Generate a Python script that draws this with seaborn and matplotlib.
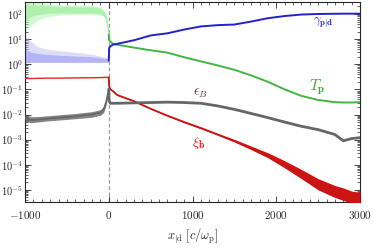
import numpy as np
import matplotlib
matplotlib.use("Agg")
import matplotlib.pyplot as plt
import seaborn as sns
from matplotlib.ticker import LogLocator, MultipleLocator, NullFormatter

# ---- data ----
# upstream (x < 0), noisy light curves given as mid line + envelopes
x_up = [-1000, -970, -930, -850, -750, -600, -400, -200, -100, -60, -30, -10, 0]
tp_up_mid = [120, 140, 160, 165, 160, 155, 150, 145, 135, 110, 70, 30, 15]
tp_up_lo = [40, 60, 80, 95, 105, 110, 110, 110, 100, 85, 55, 24, 13]
tp_up_hi = [250, 250, 240, 230, 215, 200, 195, 190, 170, 135, 85, 36, 17]
tp_up_lo2 = [20, 25, 35, 55, 75, 90, 95, 95, 90, 80, 50, 22, 12]
tp_up_hi2 = [300, 300, 300, 290, 260, 240, 230, 220, 190, 145, 95, 40, 18]
g_up_mid = [1.9, 1.8, 1.7, 1.65, 1.6, 1.55, 1.5, 1.45, 1.4, 1.4, 1.4, 1.4, 1.4]
g_up_lo = [1.15, 1.15, 1.2, 1.2, 1.2, 1.2, 1.2, 1.2, 1.2, 1.2, 1.2, 1.2, 1.2]
g_up_hi = [4.0, 3.5, 3.0, 2.7, 2.5, 2.3, 2.1, 2.0, 1.8, 1.75, 1.7, 1.65, 1.6]
g_up_hi2 = [14, 12, 8, 5, 4, 3.5, 3, 2.5, 2.1, 1.9, 1.8, 1.7, 1.6]
xi_up = [0.27, 0.27, 0.27, 0.275, 0.28, 0.28, 0.285, 0.29, 0.295, 0.3, 0.3, 0.3, 0.3]
eb_up = [0.0076, 0.0065, 0.006, 0.0062, 0.0068, 0.0075, 0.0085, 0.01, 0.012, 0.016, 0.033, 0.07, 0.1]
eb_up_lo = [0.0055, 0.005, 0.0047, 0.005, 0.0055, 0.006, 0.0068, 0.0078, 0.0093, 0.012, 0.025, 0.055, 0.08]
eb_up_hi = [0.0105, 0.009, 0.0082, 0.0083, 0.0088, 0.0097, 0.011, 0.013, 0.0155, 0.021, 0.042, 0.085, 0.12]

# downstream (x > 0)
x_dn = [0, 5, 20, 50, 100, 300, 500, 700, 900, 1100, 1300, 1500, 1700, 1900,
        2100, 2300, 2500, 2700, 2800, 2900, 3000]
gamma_dn = [1.4, 4.5, 5.2, 6.0, 6.5, 9, 14, 17, 24, 32, 36, 38, 50, 68,
            83, 95, 100, 102, 103, 103, 103]
tp_dn = [15, 9, 8, 6.5, 6.0, 4.6, 3.6, 2.9, 1.9, 1.3, 0.9, 0.6, 0.36, 0.2,
         0.1, 0.055, 0.038, 0.031, 0.03, 0.03, 0.031]
xi_dn = [0.3, 0.13, 0.1, 0.085, 0.06, 0.034, 0.017, 0.009, 0.005, 0.0029, 0.0016,
         9e-4, 4.8e-4, 2.5e-4, 1.1e-4, 4.5e-5, 1.8e-5, 9e-6, 7e-6, 5e-6, 4e-6]
xi_dn_lo = [0.3, 0.125, 0.097, 0.082, 0.058, 0.033, 0.0163, 0.0086, 0.0047, 0.0027, 0.0015,
            8e-4, 4e-4, 1.9e-4, 7.5e-5, 2.8e-5, 1e-5, 5e-6, 3.8e-6, 3e-6, 3e-6]
xi_dn_hi = [0.3, 0.135, 0.103, 0.088, 0.062, 0.035, 0.0177, 0.0094, 0.0053, 0.0031, 0.0017,
            1e-3, 5.5e-4, 3e-4, 1.45e-4, 6.5e-5, 2.8e-5, 1.5e-5, 1.2e-5, 9e-6, 8e-6]
eb_dn = [0.1, 0.035, 0.028, 0.028, 0.028, 0.029, 0.03, 0.031, 0.03, 0.028, 0.022,
         0.016, 0.011, 0.0075, 0.005, 0.0034, 0.0025, 0.0016, 0.0009, 0.0011, 0.0012]

labels = {
    "gamma": (r"$\gamma_{\mathbf{p|d}}$", 2560, 42),
    "tp": (r"$T_{\mathbf{p}}$", 2490, 0.12),
    "eb": (r"$\epsilon_{B}$", 1090, 0.07),
    "xi": (r"$\xi_{\mathbf{b}}$", 1070, 7.6e-4),
}

c_blue, c_lblue = "#2222cc", "#b4b4f6"
c_green, c_lgreen = "#44b444", "#aef0ae"
c_red, c_grey = "#cc1414", "#666666"

# ---- plot ----
sns.set_style("ticks")
plt.rcParams["font.family"] = "serif"
plt.rcParams["font.serif"] = ["cmr10", "DejaVu Serif"]
plt.rcParams["mathtext.fontset"] = "cm"
plt.rcParams["axes.formatter.use_mathtext"] = True
plt.rcParams["axes.unicode_minus"] = False

fig = plt.figure(figsize=(3.74, 2.48), dpi=100)
ax = fig.add_axes([25 / 374, 46 / 248, 335 / 374, 200 / 248])

# noisy upstream bands
ax.fill_between(x_up, tp_up_lo2, tp_up_hi2, color=c_lgreen, lw=0, alpha=0.5, zorder=1)
ax.fill_between(x_up, tp_up_lo, tp_up_hi, color=c_lgreen, lw=0, zorder=1)
ax.fill_between(x_up, g_up_lo, g_up_hi2, color=c_lblue, lw=0, alpha=0.45, zorder=1)
ax.fill_between(x_up, g_up_lo, g_up_hi, color=c_lblue, lw=0, zorder=1)
sns.lineplot(x=x_up, y=tp_up_mid, color=c_lgreen, lw=1, ax=ax, zorder=2)
sns.lineplot(x=x_up, y=g_up_mid, color=c_lblue, lw=1, ax=ax, zorder=2)
sns.lineplot(x=x_up, y=xi_up, color="#dd2a2a", lw=1, ax=ax, zorder=3)
ax.fill_between(x_up, eb_up_lo, eb_up_hi, color=c_grey, lw=0, alpha=0.8, zorder=3)
sns.lineplot(x=x_up, y=eb_up, color=c_grey, lw=1.2, ax=ax, zorder=3)

# downstream
ax.fill_between(x_dn, xi_dn_lo, xi_dn_hi, color=c_red, lw=0, zorder=3)
sns.lineplot(x=x_dn, y=xi_dn, color=c_red, lw=1.3, ax=ax, zorder=4)
sns.lineplot(x=x_dn, y=eb_dn, color=c_grey, lw=2.0, ax=ax, zorder=4)
sns.lineplot(x=x_dn, y=tp_dn, color=c_green, lw=1.4, ax=ax, zorder=4)
sns.lineplot(x=x_dn, y=gamma_dn, color=c_blue, lw=1.4, ax=ax, zorder=5)

ax.axvline(0, color="#999999", ls=(0, (3, 2)), lw=0.9, zorder=0)

ax.text(*labels["gamma"][1:], labels["gamma"][0], color=c_blue, fontsize=9,
        ha="center", va="center")
ax.text(*labels["tp"][1:], labels["tp"][0], color="#3aa63a", fontsize=11,
        ha="center", va="center")
ax.text(*labels["eb"][1:], labels["eb"][0], color="#6e2a2a", fontsize=10,
        ha="center", va="center")
ax.text(*labels["xi"][1:], labels["xi"][0], color="#ee1111", fontsize=10,
        ha="center", va="center")

ax.set_yscale("log")
ax.set_xlim(-1000, 3000)
ax.set_ylim(3.3e-6, 300)
ax.set_xticks([-1000, 0, 1000, 2000, 3000])
ax.xaxis.set_minor_locator(MultipleLocator(100))
ax.yaxis.set_major_locator(LogLocator(base=10, numticks=20))
ax.yaxis.set_minor_locator(LogLocator(base=10, subs=np.arange(2, 10), numticks=20))
ax.yaxis.set_minor_formatter(NullFormatter())
ax.tick_params(which="both", direction="in", top=True, right=True)
ax.tick_params(axis="x", labelsize=8, pad=5)
ax.tick_params(axis="y", labelsize=7.5, pad=1.5)
ax.tick_params(which="major", length=4, width=0.6)
ax.tick_params(which="minor", length=2, width=0.5)
for s in ax.spines.values():
    s.set_linewidth(0.8)

ax.set_xlabel(r"$x_{|\mathrm{d}}\ [c/\omega_{\mathrm{p}}]$", fontsize=9, labelpad=4)
ax.set_ylabel("")

fig.savefig("out.png", dpi=100)
